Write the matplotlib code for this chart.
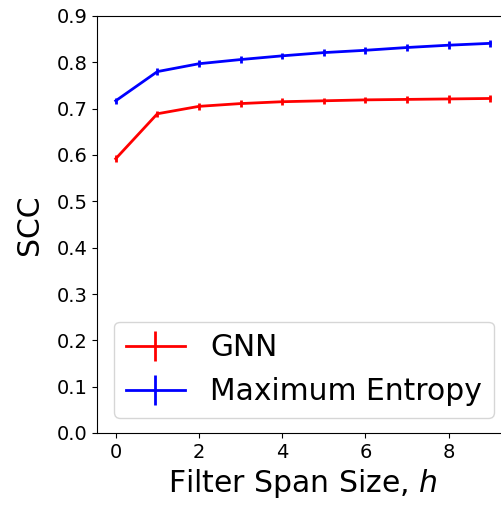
import matplotlib
matplotlib.use('Agg')
import matplotlib.pyplot as plt

# Filter span sizes
h = [0, 1, 2, 3, 4, 5, 6, 7, 8, 9]

# SCC values
gnn = [0.592, 0.689, 0.705, 0.711, 0.715, 0.717, 0.719, 0.720, 0.721, 0.722]
gnn_err = [0.007, 0.007, 0.007, 0.007, 0.007, 0.007, 0.007, 0.007, 0.008, 0.008]
maxent = [0.717, 0.780, 0.797, 0.806, 0.814, 0.821, 0.826, 0.832, 0.837, 0.841]
maxent_err = [0.007, 0.007, 0.007, 0.007, 0.007, 0.007, 0.007, 0.007, 0.008, 0.008]

fig = plt.figure(figsize=(5.01, 5.08), dpi=100)
# the original image is cropped on the right, so the axes run past the edge
ax = fig.add_axes([97 / 501, 1 - 433 / 508, (509 - 97) / 501, (433 - 16) / 508])

ax.errorbar(h, gnn, yerr=gnn_err, color='red', linewidth=2, elinewidth=2, label='GNN')
ax.errorbar(h, maxent, yerr=maxent_err, color='blue', linewidth=2, elinewidth=2, label='Maximum Entropy')

ax.set_xlim(-0.45, 9.45)
ax.set_ylim(0, 0.9)
ax.set_xticks([0, 2, 4, 6, 8])
ax.set_yticks([i / 10 for i in range(10)])
ax.tick_params(labelsize=14)
ax.set_xlabel('Filter Span Size, $h$', fontsize=21.5)
ax.set_ylabel('SCC', fontsize=21.5, labelpad=9)
ax.legend(fontsize=21.4, loc='lower right', handletextpad=0.85)

fig.savefig('out.png', dpi=100)
